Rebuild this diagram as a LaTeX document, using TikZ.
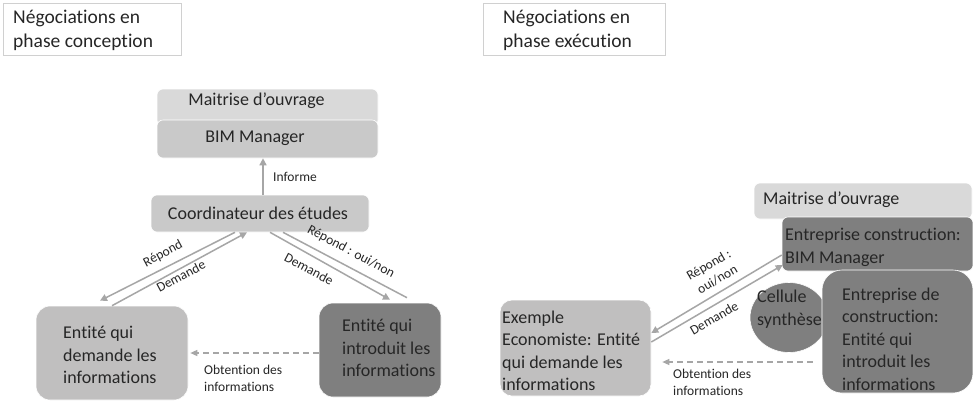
\documentclass[tikz,border=0pt]{standalone}
\usepackage{fontspec}
\setmainfont{Carlito}[Ligatures=NoCommon]
\usetikzlibrary{arrows.meta,shapes.geometric,calc}
\definecolor{light}{HTML}{D9D9D9}
\definecolor{mid}{HTML}{C9C9C9}
\definecolor{ent}{HTML}{C0BFBF}
\definecolor{dark}{HTML}{7F7F7F}
\definecolor{conn}{HTML}{A6A6A6}
\definecolor{txt}{HTML}{262626}
\definecolor{frame}{HTML}{D0D0D0}
\tikzset{
  boxstyle/.style={rectangle, draw=white, line width=0.6pt, inner sep=0pt},
  titlebox/.style={rectangle, draw=frame, line width=0.8pt, fill=white, inner sep=0pt},
  bigtext/.style={inner sep=0pt, align=left, text=txt, font=\fontsize{18}{22.5}\selectfont},
  titletext/.style={inner sep=0pt, align=left, text=txt, font=\fontsize{19.5}{24}\selectfont},
  smalltext/.style={inner sep=0pt, align=left, text=txt, font=\fontsize{13.5}{17}\selectfont},
  conline/.style={draw=conn, line width=1.5pt},
  conarrow/.style={conline, -{Triangle[length=7pt,width=7pt]}},
  dasharrow/.style={conline, line width=1.3pt, dash pattern=on 6pt off 4pt, -{Triangle[length=7pt,width=6pt]}}
}
\begin{document}
\begin{tikzpicture}[x=1pt,y=-1pt]
\useasboundingbox (0,0) rectangle (973,405);
\fill[white] (0,0) rectangle (973,405);
% titles
\node[titlebox, minimum width=178pt, minimum height=52pt] (t1) at (92,29) {};
\node[titletext, anchor=west] (t1txt) at (13,30) {Négociations en\\phase conception};
\node[titlebox, minimum width=182pt, minimum height=52pt] (t2) at (574,29) {};
\node[titletext, anchor=west] (t2txt) at (503,30) {Négociations en\\phase exécution};
% left section
\node[boxstyle, fill=light, rounded corners=6pt, minimum width=221pt, minimum height=37pt] (mo1) at (267.5,107.5) {};
\node[bigtext] (mo1txt) at (256.5,101) {Maitrise d’ouvrage};
\node[boxstyle, fill=mid, rounded corners=6pt, minimum width=221pt, minimum height=38pt] (bim1) at (267.5,139) {};
\node[bigtext] (bim1txt) at (255,138) {BIM Manager};
\node[boxstyle, fill=mid, rounded corners=6pt, minimum width=218pt, minimum height=37pt] (coord) at (260,213.5) {};
\node[bigtext] (coordtxt) at (258,213) {Coordinateur des études};
\node[boxstyle, fill=ent, rounded corners=14pt, minimum width=152pt, minimum height=94pt] (ent1) at (112,353) {};
\node[bigtext, anchor=west] (ent1txt) at (63,355) {Entité qui\\demande les\\informations};
\node[boxstyle, fill=dark, rounded corners=14pt, minimum width=122pt, minimum height=94pt] (ent2) at (380,350) {};
\node[bigtext, anchor=west] (ent2txt) at (342,348) {Entité qui\\introduit les\\informations};
% left connectors
\draw[conarrow] ([xshift=3pt]coord.north) -- ([xshift=-4.5pt]bim1.south);
\node[smalltext, anchor=west] (informe) at (273,177) {Informe};
\draw[conarrow] ([xshift=-25pt]coord.south) -- ([xshift=-12pt,yshift=5pt]ent1.north);
\draw[conarrow] ([xshift=0pt]ent1.north) -- ([xshift=-13pt]coord.south);
\node[smalltext, rotate=28] (repond1) at (163,254) {Répond};
\node[smalltext, rotate=28] (demande1) at (181,276) {Demande};
\draw[conarrow] ([xshift=10pt]coord.south) -- ([xshift=10pt,yshift=3pt]ent2.north);
\draw[conline] ([xshift=27pt,yshift=5pt]ent2.north) -- ([xshift=23pt]coord.south);
\node[smalltext, rotate=-28] (repond2) at (351,252) {Répond : oui/non};
\node[smalltext, rotate=-28] (demande2) at (309,269) {Demande};
\draw[dasharrow] ([yshift=-3pt]ent2.west) -- ([xshift=2pt]ent1.east);
\node[smalltext, anchor=west] (obt1) at (204,378) {Obtention des\\informations};
% right section
\node[boxstyle, fill=light, rounded corners=6pt, minimum width=218pt, minimum height=36pt] (mo2) at (863,201) {};
\node[bigtext, anchor=west] (mo2txt) at (763,200) {Maitrise d’ouvrage};
\node[boxstyle, fill=dark, rounded corners=6pt, minimum width=191pt, minimum height=54pt] (bim2) at (877.5,244) {};
\node[bigtext, anchor=west] (bim2txt) at (785,247.5) {Entreprise construction:\\BIM Manager};
\node[ellipse, draw=white, line width=0.6pt, fill=dark, inner sep=0pt, minimum width=78pt, minimum height=70pt] (cell) at (789,317.5) {};
\node[bigtext, anchor=west] (celltxt) at (757,309) {Cellule\\synthèse};
\node[boxstyle, fill=dark, rounded corners=20pt, minimum width=151pt, minimum height=123pt] (ent3) at (897.5,331.5) {};
\node[bigtext, anchor=west] (ent3txt) at (842,339) {Entreprise de\\construction:\\Entité qui\\introduit les\\informations};
\node[boxstyle, fill=ent, rounded corners=12pt, minimum width=151pt, minimum height=96pt] (eco) at (575.5,348) {};
\node[bigtext, anchor=west] (ecotxt) at (502,351) {Exemple\\Economiste: Entité\\qui demande les\\informations};
% right connectors
\draw[conarrow] ([yshift=-11pt]bim2.west) -- ([yshift=15pt]eco.east);
\draw[conarrow] ([yshift=6pt]eco.east) -- ([yshift=-21pt,xshift=1pt]bim2.west);
\node[smalltext, rotate=30, align=center] (repond3) at (713,272) {Répond :\\oui/non};
\node[smalltext, rotate=30] (demande3) at (714,318) {Demande};
\draw[dasharrow] ([xshift=-9pt,yshift=-30.5pt]ent3.west) -- ([xshift=11pt,yshift=-14pt]eco.east);
\node[smalltext, anchor=west] (obt2) at (673,382) {Obtention des\\informations};
\end{tikzpicture}
\end{document}
